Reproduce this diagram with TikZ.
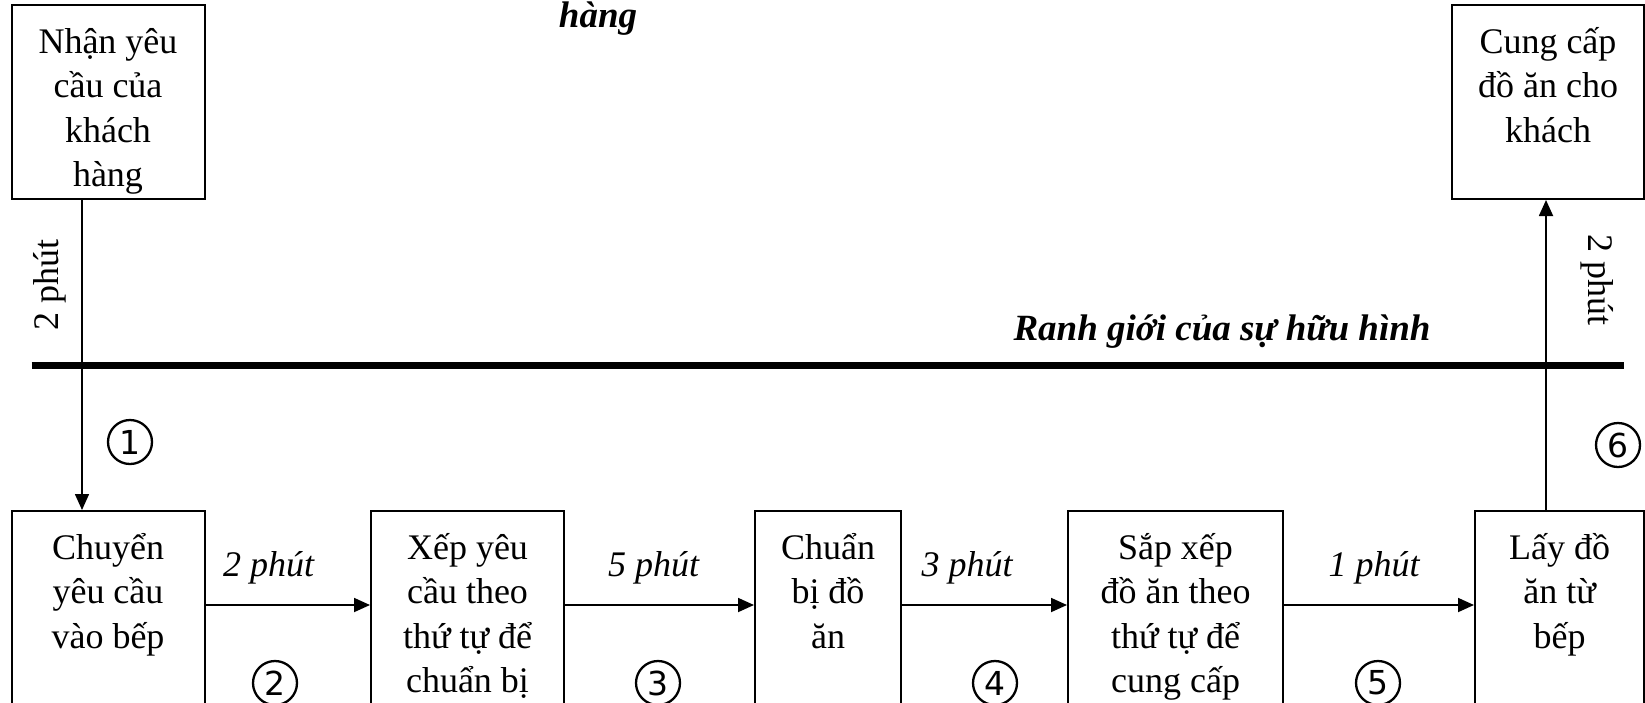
\documentclass[tikz,border=0pt]{standalone}
\usepackage{fontspec}
\setmainfont{Liberation Serif}
\newfontfamily\symfont{DejaVu Sans}
\usetikzlibrary{arrows.meta}
\newcommand\firststrut{\rule{0pt}{36pt}}
\begin{document}
\begin{tikzpicture}[x=1pt,y=-1pt,
  box/.style={draw, line width=2pt, inner sep=0pt, anchor=north west},
  txt/.style={align=center, inner sep=0pt, anchor=north, font=\fontsize{36}{44.4}\selectfont},
  lab/.style={font=\fontsize{36}{40}\selectfont\itshape, inner sep=0pt},
  ttl/.style={font=\fontsize{37}{40}\selectfont\bfseries\itshape, inner sep=0pt, anchor=base},
  num/.style={circle, draw, line width=2.3pt, minimum size=44pt, inner sep=0pt, font=\fontsize{33}{36}\selectfont\symfont},
  arr/.style={line width=1.8pt, -{Triangle[width=14pt,length=16pt]}},
]
\useasboundingbox (0,0) rectangle (1645,702);
\clip (0,0) rectangle (1645,702);

% top boxes
\node[box, minimum width=193pt, minimum height=194pt] (tl) at (10.5,4) {};
\node[txt] (tlt) at ([yshift=-13pt]tl.north) {\firststrut Nhận yêu\\cầu của\\khách\\hàng};
\node[box, minimum width=192pt, minimum height=194pt] (tr) at (1451,4) {};
\node[txt] (trt) at ([yshift=-13pt]tr.north) {\firststrut Cung cấp\\đồ ăn cho\\khách};

\node[ttl] (top) at (598,27) {hàng};

% boundary line
\coordinate (bl) at (31.5,365);
\coordinate (br) at (1624,365);
\draw[line width=7pt] (bl) -- (br);
\node[ttl] (bound) at (1222,340) {Ranh giới của sự hữu hình};

% bottom boxes
\node[box, minimum width=193pt, minimum height=230pt] (b1) at (10.5,510) {};
\node[box, minimum width=193pt, minimum height=230pt] (b2) at (370,510) {};
\node[box, minimum width=146pt, minimum height=230pt] (b3) at (754,510) {};
\node[box, minimum width=215pt, minimum height=230pt] (b4) at (1067,510) {};
\node[box, minimum width=169pt, minimum height=230pt] (b5) at (1474,510) {};

\node[txt] (b1t) at ([yshift=-13pt]b1.north) {\firststrut Chuyển\\yêu cầu\\vào bếp};
\node[txt] (b2t) at ([yshift=-13pt]b2.north) {\firststrut Xếp yêu\\cầu theo\\thứ tự để\\chuẩn bị};
\node[txt] (b3t) at ([yshift=-13pt]b3.north) {\firststrut Chuẩn\\bị đồ\\ăn};
\node[txt] (b4t) at ([yshift=-13pt]b4.north) {\firststrut Sắp xếp\\đồ ăn theo\\thứ tự để\\cung cấp};
\node[txt] (b5t) at ([yshift=-13pt]b5.north) {\firststrut Lấy đồ\\ăn từ\\bếp};

% vertical connectors
\coordinate (c1) at (82,0);
\coordinate (c6) at (1546,0);
\draw[arr, line width=1.5pt] (tl.south -| c1) -- (b1.north -| c1);
\draw[arr] (b5.north -| c6) -- (tr.south -| c6);
\node[lab, font=\fontsize{36}{40}\selectfont, rotate=90] (l1) at (50,285) {2 phút};
\node[lab, font=\fontsize{36}{40}\selectfont, rotate=-90] (l6) at (1597,280) {2 phút};

% horizontal connectors
\coordinate (ya) at (0,605);
\draw[arr] (b1.east |- ya) -- (b2.west |- ya);
\draw[arr] (b2.east |- ya) -- (b3.west |- ya);
\draw[arr] (b3.east |- ya) -- (b4.west |- ya);
\draw[arr] (b4.east |- ya) -- (b5.west |- ya);

\node[lab] (l2) at (268.5,568) {2 phút};
\node[lab] (l3) at (653.5,568) {5 phút};
\node[lab] (l4) at (967,568) {3 phút};
\node[lab] (l5) at (1374,568) {1 phút};

% circled numbers
\node[num] (n1) at (130,442) {1};
\node[num] (n2) at (275,683) {2};
\node[num] (n3) at (658,683) {3};
\node[num] (n4) at (995,683) {4};
\node[num] (n5) at (1378,683) {5};
\node[num] (n6) at (1618,445) {6};
\end{tikzpicture}
\end{document}
